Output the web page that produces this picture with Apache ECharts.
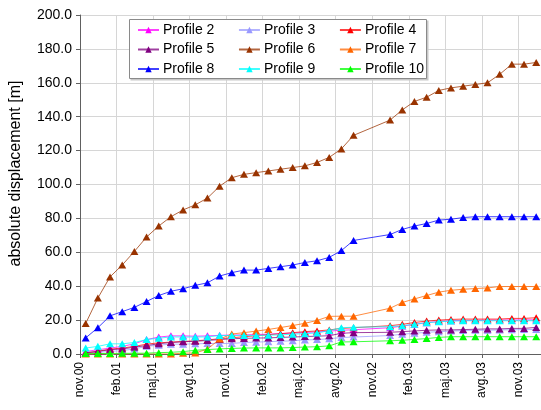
<!DOCTYPE html>
<html><head><meta charset="utf-8">
<script src="https://cdn.jsdelivr.net/npm/echarts@6/dist/echarts.min.js"></script>
<style>html,body{margin:0;padding:0;background:#fff}#c{width:541px;height:410px}</style>
</head><body><div id="c"></div>
<script>
// Measurement dates
const dates = ['2000-11-15','2000-12-15','2001-01-15','2001-02-15','2001-03-15','2001-04-15','2001-05-15','2001-06-15','2001-07-15','2001-08-15','2001-09-15','2001-10-15','2001-11-15','2001-12-15','2002-01-15','2002-02-15','2002-03-15','2002-04-15','2002-05-15','2002-06-15','2002-07-15','2002-08-15','2002-09-15','2002-12-15','2003-01-15','2003-02-15','2003-03-15','2003-04-15','2003-05-15','2003-06-15','2003-07-15','2003-08-15','2003-09-15','2003-10-15','2003-11-15','2003-12-15'];
// X tick labels (every 3 months from nov.00)
const xTickLabels = ['nov.00','feb.01','maj.01','avg.01','nov.01','feb.02','maj.02','avg.02','nov.02','feb.03','maj.03','avg.03','nov.03'];
const seriesNames = ['Profile 2','Profile 3','Profile 4','Profile 5','Profile 6','Profile 7','Profile 8','Profile 9','Profile 10'];
const profile2 = [1.5,2.5,3.5,4.5,6,8.5,10,10.7,10.7,10.5,10.7,11,11.2,11.3,11.5,11.7,12,12.3,12.7,13,13.5,14,14.3,15.5,16.5,17.5,18.5,19.2,19.6,19.8,19.9,20,20,20.1,20.1,20.2];
const profile3 = [0.5,1,1.5,2,3,4.5,5.2,5.8,5.8,6,6.2,6.2,6.2,6.8,7,7.3,7.5,7.8,8.3,8.5,9,9.7,10,10.9,11.7,12.2,12.8,13.2,13.5,13.8,14,14,14.2,14.3,14.4,14.5];
const profile4 = [0.6,1.6,2.9,3.5,4.5,5.8,6.6,7,7.4,7.8,8.3,9,9.6,10.2,10.8,11.4,12,12.6,13.2,13.6,14.2,15.1,15.5,16.7,17.5,18.6,19.4,20,20.4,20.6,20.6,20.6,20.6,21,21,21.4];
const profile5 = [0.8,1.5,2.5,3,4,5,6,6.8,7.2,7.5,8,8.5,9,9.2,9.4,9.5,9.8,10,10.3,10.5,10.8,12.2,12.6,12.8,13.2,13.6,14,14.2,14.2,14.4,14.6,14.8,14.8,15.1,15.1,15.7];
const profile6 = [18,33,45.5,52.5,60.5,69,75.5,81,85,88,92,99,104,106,107,108,109,110,111,113,116,121,129,138,144,149,151.5,155.5,157,158,159,160,165,171,171,172];
const profile7 = [0,0,0,0,0,0,0,0,0.5,0.6,2.9,8.8,11.8,12.6,13.5,14.5,15.6,16.8,18.1,19.8,22.2,22.3,22.3,27,30.4,32.5,34.5,36.5,37.6,38.2,38.6,39,39.8,39.8,39.8,39.8];
const profile8 = [9.5,15.5,22.5,25,27.5,31,34.5,37,38.5,40.5,42,46,48,49.5,49.5,50.5,51.5,52.5,54,55,57,61,67,70.5,73.5,75.5,77,79,79.5,80.5,81,81,81,81,81,81];
const profile9 = [3.5,4.5,6,6,6.8,8.5,9.3,10.1,10,10,10.1,10.9,10.9,10.9,10.9,11.1,11.3,11.7,12,12.4,13.8,15.5,15.8,16.1,16.7,17.5,18.4,19,19.4,19.6,19.6,19.6,19.6,19.6,19.6,19.6];
const profile10 = [0.3,0.3,0.3,0.4,0.4,0.5,0.8,1.0,1.4,2.2,2.6,3.0,3.3,3.5,3.6,3.6,3.6,3.8,4.1,4.3,4.8,7.1,7.2,7.8,8.1,8.6,9.1,9.8,10.2,10.2,10.2,10.2,10.2,10.2,10.2,10.2];
const seriesValues = [profile2,profile3,profile4,profile5,profile6,profile7,profile8,profile9,profile10];
const seriesColors = ['#FF00FF','#9999FF','#FF0000','#800080','#993300','#FF6600','#0000FF','#00FFFF','#00FF00'];

function monthIndex(s){const [y,m,d]=s.split('-').map(Number);return (y-2000)*12+(m-11)+(d-1)/30;}
const xs = dates.map(monthIndex);

const chart = echarts.init(document.getElementById('c'), null, {renderer:'canvas'});
const font = 'Liberation Sans, Arial, sans-serif';
const legendRows = [seriesNames.slice(0,3), seriesNames.slice(3,6), seriesNames.slice(6,9)];
chart.setOption({
  animation:false,
  backgroundColor:'#fff',
  textStyle:{fontFamily:font},
  grid:{left:73,right:0,top:15,bottom:56,containLabel:false},
  graphic:[
    {type:'rect',z:3,shape:{x:130.5,y:20.5,width:298,height:60},style:{fill:'#c8c8c8',stroke:null}},
    {type:'rect',z:3,shape:{x:129.5,y:19.5,width:297,height:59},style:{fill:'#fff',stroke:'#8a8a8a',lineWidth:1}}
  ],
  legend: legendRows.map((row,i)=>({
    data:row, left:137, top:23+i*19.5, orient:'horizontal', padding:0, itemGap:23.6,
    itemWidth:21, itemHeight:8, z:5,
    textStyle:{fontSize:14,color:'#000',fontFamily:font,padding:[0,0,0,-1]}
  })),
  xAxis:{type:'value',min:0,max:37.86,interval:3,
    axisLine:{lineStyle:{color:'#606060',width:1}},
    axisTick:{show:true,length:4,lineStyle:{color:'#606060'}},
    axisLabel:{rotate:90,fontSize:12,color:'#000',margin:8,fontFamily:font,
      formatter:v=>{const k=v/3; return Number.isInteger(k)&&xTickLabels[k]?xTickLabels[k]:'';}},
    splitLine:{show:true,lineStyle:{color:'#d6d6d6',width:1}}
  },
  yAxis:{type:'value',min:0,max:200,interval:20,
    name:'absolute displacement [m]',nameLocation:'middle',nameGap:56,nameRotate:90,
    nameTextStyle:{fontSize:16,color:'#000',fontFamily:font,padding:[0,0,0,22]},
    axisLine:{show:true,lineStyle:{color:'#606060',width:1}},
    axisTick:{show:true,length:4,lineStyle:{color:'#606060'}},
    axisLabel:{fontSize:14,color:'#000',margin:8,fontFamily:font,formatter:v=>v.toFixed(1)},
    splitLine:{show:true,lineStyle:{color:'#d6d6d6',width:1}}
  },
  series: seriesNames.map((n,i)=>({
    name:n,type:'line',data:xs.map((x,j)=>[x,seriesValues[i][j]]),
    symbol:'triangle',symbolSize:[8,7],showSymbol:true,
    lineStyle:{width:1,color:seriesColors[i],opacity:0.75},
    itemStyle:{color:seriesColors[i]},
    z:2+i*0.01
  }))
});
</script></body></html>
